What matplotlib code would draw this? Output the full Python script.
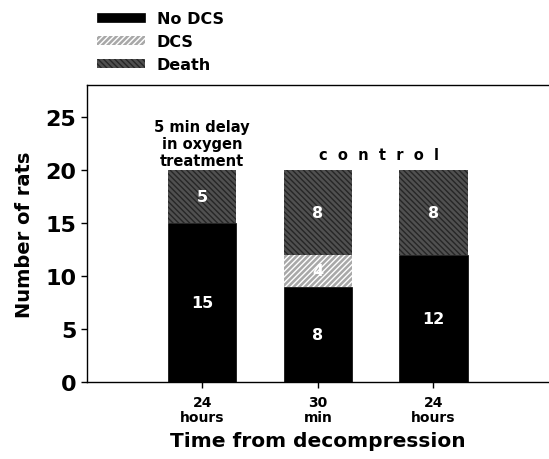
import matplotlib
matplotlib.use("Agg")
import matplotlib.pyplot as plt
import numpy as np

groups = ["24\nhours", "30\nmin", "24\nhours"]
no_dcs = [15, 9, 12]
dcs = [0, 3, 0]
death = [5, 8, 8]
no_dcs_labels = ["15", "8", "12"]
dcs_labels = ["", "4", ""]
death_labels = ["5", "8", "8"]

plt.rcParams['font.family'] = ['DejaVu Sans']
plt.rcParams['font.weight'] = 'bold'
plt.rcParams['hatch.linewidth'] = 1.0

fig = plt.figure(figsize=(5.49, 4.60), dpi=100)
ax = fig.add_axes([0.158, 0.167, 0.842, 0.646])

x = np.arange(1, len(groups) + 1)
w = 0.59
no_dcs = np.array(no_dcs)
dcs = np.array(dcs)
death = np.array(death)

b1 = ax.bar(x, no_dcs, w, color="black", edgecolor="black", linewidth=0.5, label="No DCS")
b2 = ax.bar(x, dcs, w, bottom=no_dcs, color="#a8a8a8", edgecolor="white",
            hatch="//////", linewidth=0, label="DCS")
b3 = ax.bar(x, death, w, bottom=no_dcs + dcs, color="#505050", edgecolor="#262626",
            hatch="\\\\\\\\\\\\", linewidth=0, label="Death")

for i in range(len(x)):
    ax.text(x[i], no_dcs[i] / 2, no_dcs_labels[i], color="white", ha="center",
            va="center", fontsize=11.5, fontweight="bold")
    if dcs[i] > 0:
        ax.text(x[i], no_dcs[i] + dcs[i] / 2, dcs_labels[i], color="white", ha="center",
                va="center", fontsize=11.5, fontweight="bold")
    ax.text(x[i], no_dcs[i] + dcs[i] + death[i] / 2, death_labels[i], color="white",
            ha="center", va="center", fontsize=11.5, fontweight="bold")

ax.text(1, 22.5, "5 min delay\nin oxygen\ntreatment", ha="center", va="center",
        fontsize=10.5, fontweight="bold", linespacing=1.15)
ax.text(2.53, 21.5, "c  o  n  t  r  o  l", ha="center", va="center",
        fontsize=10.5, fontweight="bold")

ax.set_xlim(0, 4)
ax.set_ylim(0, 28)
ax.set_xticks(x)
ax.set_xticklabels(groups, fontsize=10, fontweight="bold", linespacing=1.15)
ax.set_yticks([0, 5, 10, 15, 20, 25])
ax.tick_params(axis="y", labelsize=16, width=1, length=4)
ax.tick_params(axis="x", width=1, length=4, pad=5)
for lab in ax.get_yticklabels():
    lab.set_fontweight("bold")
ax.spines["right"].set_visible(False)
for s in ["left", "bottom", "top"]:
    ax.spines[s].set_linewidth(1)

ax.set_ylabel("Number of rats", fontsize=14, fontweight="bold", labelpad=8)
ax.set_xlabel("Time from decompression", fontsize=14.5, fontweight="bold", labelpad=5)

fig.legend(handles=[b1, b2, b3], loc="upper left", bbox_to_anchor=(0.16, 0.995),
           frameon=False, handlelength=3.0, handleheight=0.5,
           labelspacing=0.5, handletextpad=0.7, borderaxespad=0.2,
           prop={"weight": "bold", "size": 11.5})

fig.savefig("out.png", dpi=100)
